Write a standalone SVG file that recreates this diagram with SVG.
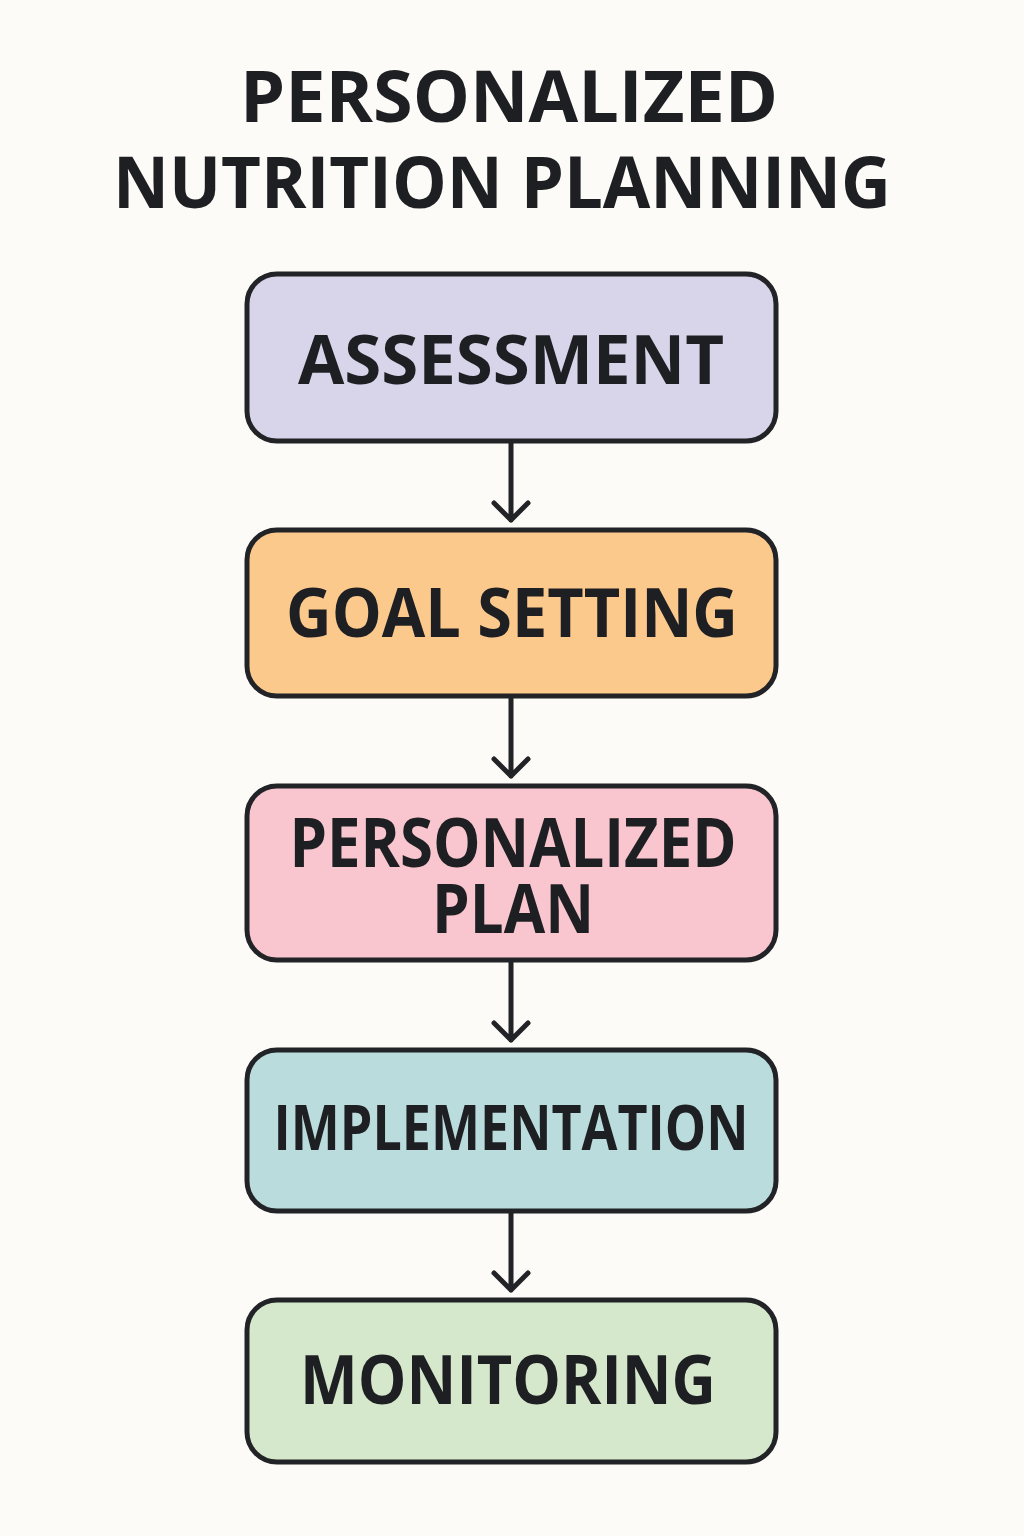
<svg xmlns="http://www.w3.org/2000/svg" width="1024" height="1536" viewBox="0 0 1024 1536">
<style>
.box{stroke:#222326;stroke-width:5}
.t{font-family:"Open Sans","Noto Sans",sans-serif;font-weight:700;fill:#1e1f22;text-anchor:middle}
.title{font-size:72px}
.lbl{font-size:68px}
.c{stroke:#222326;stroke-width:5;fill:none;stroke-linecap:round;stroke-linejoin:round}
</style>
<rect width="1024" height="1536" fill="#fcfbf8"/>
<g id="title">
<text class="t title" x="509" y="122" textLength="538" lengthAdjust="spacingAndGlyphs">PERSONALIZED</text>
<text class="t title" x="502" y="208" textLength="778" lengthAdjust="spacingAndGlyphs">NUTRITION PLANNING</text>
</g>
<g id="connectors">
<path class="c" d="M511 443V520M494 503L511 520L528 503"/>
<path class="c" d="M511 698V776M494 759L511 776L528 759"/>
<path class="c" d="M511 962V1040M494 1023L511 1040L528 1023"/>
<path class="c" d="M511 1213V1290M494 1273L511 1290L528 1273"/>
</g>
<g id="assessment">
<rect class="box" x="247" y="274" width="529" height="167" rx="30" fill="#d8d4ea"/>
<text class="t lbl" x="511" y="384" textLength="426" lengthAdjust="spacingAndGlyphs">ASSESSMENT</text>
</g>
<g id="goal-setting">
<rect class="box" x="247" y="530" width="529" height="166" rx="30" fill="#fcc98d"/>
<text class="t lbl" x="512" y="637" textLength="452" lengthAdjust="spacingAndGlyphs">GOAL SETTING</text>
</g>
<g id="personalized-plan">
<rect class="box" x="247" y="786" width="529" height="174" rx="30" fill="#f9c6cf"/>
<text class="t lbl" x="513" y="867" textLength="447" lengthAdjust="spacingAndGlyphs">PERSONALIZED</text>
<text class="t lbl" x="513" y="933" textLength="162" lengthAdjust="spacingAndGlyphs">PLAN</text>
</g>
<g id="implementation">
<rect class="box" x="247" y="1050" width="529" height="161" rx="30" fill="#badcdc"/>
<text class="t" style="font-size:62px" x="511" y="1150" textLength="475" lengthAdjust="spacingAndGlyphs">IMPLEMENTATION</text>
</g>
<g id="monitoring">
<rect class="box" x="247" y="1300" width="529" height="162" rx="30" fill="#d5e8cc"/>
<text class="t lbl" x="508" y="1404" textLength="416" lengthAdjust="spacingAndGlyphs">MONITORING</text>
</g>
</svg>
